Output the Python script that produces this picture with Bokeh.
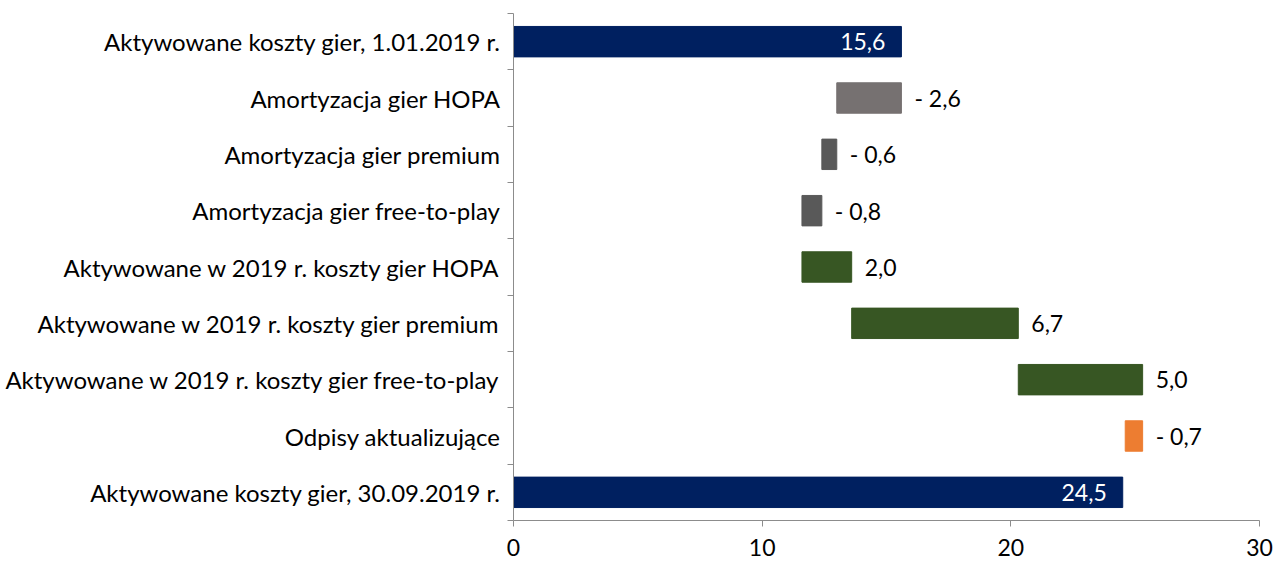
from bokeh.plotting import figure
from bokeh.models import ColumnDataSource, Range1d, FixedTicker
from bokeh.core.properties import value
from bokeh.embed import file_html
from bokeh.resources import INLINE

categories = [
    "Aktywowane koszty gier, 1.01.2019 r.",
    "Amortyzacja gier HOPA",
    "Amortyzacja gier premium",
    "Amortyzacja gier free-to-play",
    "Aktywowane w 2019 r. koszty gier HOPA",
    "Aktywowane w 2019 r. koszty gier premium",
    "Aktywowane w 2019 r. koszty gier free-to-play",
    "Odpisy aktualizujące",
    "Aktywowane koszty gier, 30.09.2019 r.",
]
values = [15.6, -2.6, -0.6, -0.8, 2.0, 6.7, 5.0, -0.7, 24.5]
is_total = [True, False, False, False, False, False, False, False, True]
colors = ["#002060", "#767171", "#595959", "#595959", "#375623", "#375623", "#375623", "#ED7D31", "#002060"]
x_ticks = [0, 10, 20, 30]

FONT = "Lato"

n = len(categories)
ys = [n - 0.5 - i for i in range(n)]
lefts, rights = [], []
running = 0.0
for v, t in zip(values, is_total):
    if t:
        lefts.append(0.0)
        rights.append(v)
        running = v
    else:
        start = running
        running = running + v
        lefts.append(min(start, running))
        rights.append(max(start, running))


def fmt(v):
    s = f"{abs(v):.1f}".replace(".", ",")
    return ("- " + s) if v < 0 else s


labels = [fmt(v) for v in values]

src = ColumnDataSource(dict(y=ys, left=lefts, right=rights, color=colors, label=labels))

p = figure(width=1274, height=563, output_backend="svg", toolbar_location=None,
           x_range=Range1d(0, 30), y_range=Range1d(0, n),
           min_border_left=513, min_border_right=15, min_border_top=13, min_border_bottom=43)
p.outline_line_color = None
p.grid.visible = False
p.background_fill_color = "white"
p.border_fill_color = "white"

p.hbar(y="y", left="left", right="right", height=0.54, color="color", source=src)

inner = ColumnDataSource(dict(
    x=[r for r, t in zip(rights, is_total) if t],
    y=[y for y, t in zip(ys, is_total) if t],
    label=[l for l, t in zip(labels, is_total) if t]))
outer = ColumnDataSource(dict(
    x=[r for r, t in zip(rights, is_total) if not t],
    y=[y for y, t in zip(ys, is_total) if not t],
    label=[l for l, t in zip(labels, is_total) if not t]))

p.text(x="x", y="y", text="label", source=inner, text_align="right", text_baseline="middle",
       x_offset=-16, text_color="white", text_font=value(FONT), text_font_size="23px")
p.text(x="x", y="y", text="label", source=outer, text_align="left", text_baseline="middle",
       x_offset=13, text_color="black", text_font=value(FONT), text_font_size="23px")

ax = p.xaxis[0]
ax.ticker = FixedTicker(ticks=x_ticks)
ax.axis_line_color = "#8C8C8C"
ax.major_tick_line_color = "#8C8C8C"
ax.major_tick_out = 6
ax.major_tick_in = 0
ax.minor_tick_line_color = None
ax.major_label_text_font = FONT
ax.major_label_text_font_size = "23px"
ax.major_label_text_color = "black"
ax.major_label_standoff = 12

ay = p.yaxis[0]
ay.ticker = FixedTicker(ticks=ys, minor_ticks=list(range(n + 1)))
ay.major_label_overrides = {y: c for y, c in zip(ys, categories)}
ay.axis_line_color = "#8C8C8C"
ay.major_tick_line_color = None
ay.major_tick_out = 0
ay.major_tick_in = 0
ay.minor_tick_line_color = "#8C8C8C"
ay.minor_tick_out = 6
ay.minor_tick_in = 0
ay.major_label_text_font = FONT
ay.major_label_text_font_size = "24px"
ay.major_label_text_color = "black"
ay.major_label_standoff = 7

open("out.html", "w").write(file_html(p, INLINE))
